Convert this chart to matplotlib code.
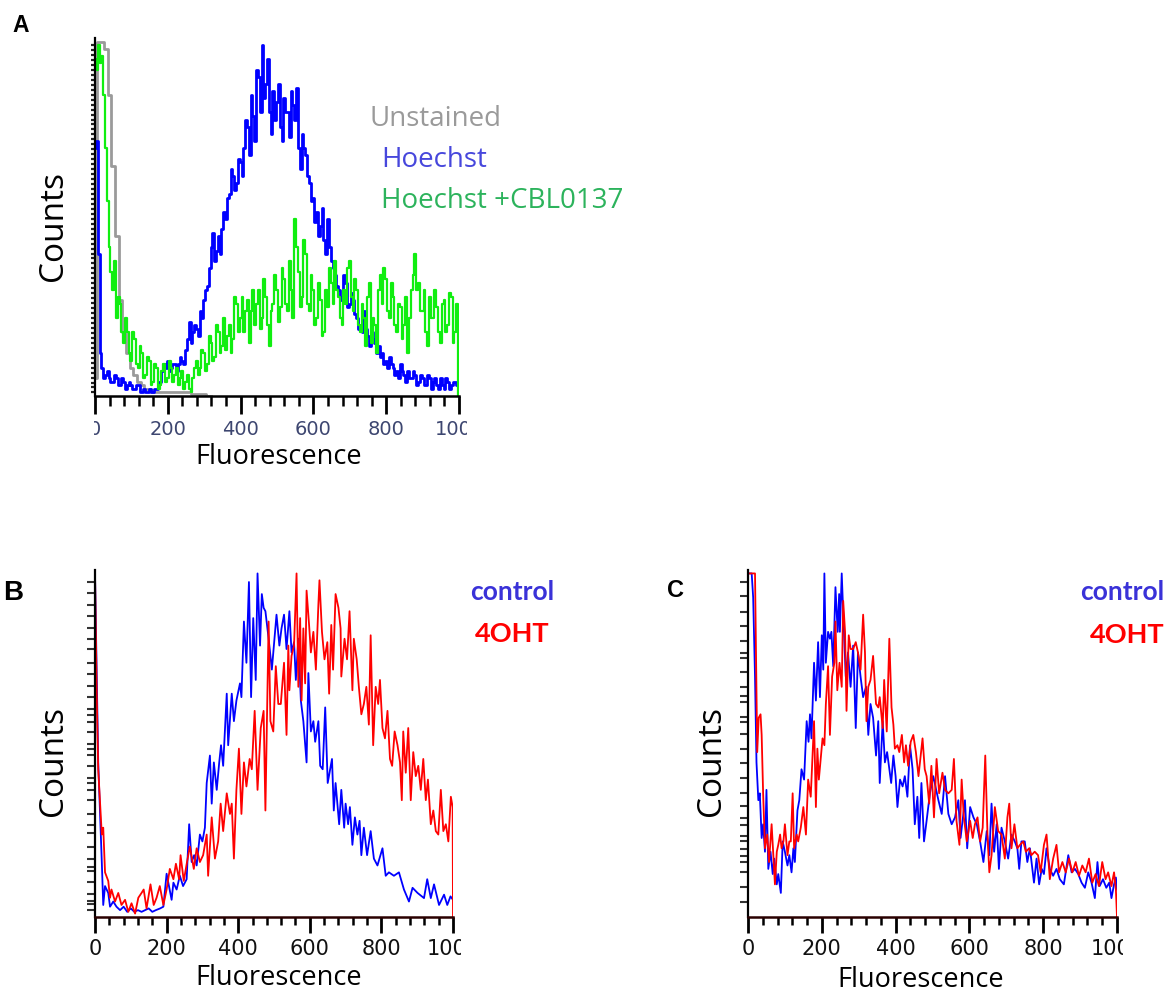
import numpy as np
import matplotlib
matplotlib.use("Agg")
import matplotlib.pyplot as plt
from matplotlib.transforms import Bbox, TransformedBbox

# ---- panel A: histograms, bins every 5 units ----
a_bins = np.arange(0, 1001, 5)

a_hoechst = [
    70, 72, 40, 12, 8, 5, 6, 7, 5, 4,
    4, 6, 5, 3, 3, 5, 4, 2, 3, 4,
    3, 2, 2, 3, 3, 1, 1, 2, 1, 1,
    2, 1, 1, 2, 2, 4, 4, 7, 9, 8,
    10, 7, 8, 9, 9, 7, 9, 11, 10, 9,
    13, 16, 21, 15, 18, 20, 19, 17, 24, 22,
    27, 30, 31, 36, 42, 46, 38, 41, 45, 40,
    47, 52, 50, 56, 57, 64, 62, 58, 60, 67,
    66, 62, 70, 78, 76, 68, 85, 79, 72, 92,
    90, 80, 99, 84, 88, 95, 80, 74, 86, 78,
    83, 88, 76, 72, 84, 80, 80, 73, 86, 82,
    78, 87, 70, 64, 74, 70, 68, 62, 60, 55,
    56, 49, 52, 45, 48, 53, 44, 40, 50, 42,
    38, 36, 34, 31, 30, 27, 28, 34, 32, 25,
    26, 29, 27, 23, 22, 19, 20, 18, 24, 19,
    17, 14, 18, 16, 15, 12, 14, 11, 12, 9,
    10, 8, 11, 9, 8, 6, 7, 5, 9, 7,
    6, 4, 7, 5, 5, 7, 6, 3, 4, 6,
    5, 3, 3, 6, 5, 2, 4, 5, 3, 2,
    5, 3, 2, 5, 4, 2, 3, 4, 4, 3,
    4]

a_cbl = [
    95, 92, 99, 94, 96, 85, 70, 55, 42, 35,
    30, 38, 22, 28, 26, 18, 15, 22, 18, 12,
    10, 18, 16, 9, 8, 14, 12, 5, 6, 11,
    10, 3, 4, 9, 8, 2, 3, 7, 9, 4,
    5, 10, 8, 4, 6, 8, 3, 5, 7, 2,
    4, 6, 2, 1, 5, 8, 10, 6, 8, 13,
    12, 7, 9, 17, 15, 10, 11, 20, 18, 12,
    14, 22, 13, 17, 20, 12, 16, 28, 26, 18,
    22, 28, 18, 24, 27, 15, 24, 30, 20, 26,
    30, 19, 22, 33, 28, 20, 14, 24, 26, 34,
    30, 21, 25, 36, 33, 26, 24, 38, 30, 22,
    50, 42, 35, 25, 28, 44, 40, 26, 24, 34,
    30, 20, 22, 32, 27, 17, 18, 30, 25, 36,
    32, 26, 38, 30, 28, 22, 20, 30, 26, 36,
    38, 28, 24, 33, 30, 20, 18, 26, 22, 14,
    28, 32, 15, 22, 20, 12, 30, 34, 26, 36,
    33, 24, 22, 32, 28, 20, 18, 26, 25, 16,
    20, 28, 12, 22, 30, 34, 40, 30, 32, 24,
    24, 30, 18, 14, 28, 22, 22, 30, 25, 18,
    15, 26, 27, 18, 20, 29, 28, 15, 18, 26,
    0]

# unstained, read every 10 units up to where it meets the axis
a_unst_bins = np.arange(0, 330, 10)
a_unstained = [
    5, 100, 100, 98, 85, 65, 45, 27, 18, 12,
    8, 6, 4, 3, 2, 2, 1, 1, 1, 1,
    1, 1, 1, 1, 1, 1, 1, 0.5, 0.5, 0.5,
    0.5, 0, 0]

# ---- panel B ----
b_ctrl_x = [
    0, 9, 19, 23, 28, 37, 42, 51, 60, 70,
    80, 90, 100, 110, 120, 130, 140, 150, 160, 170,
    182, 191, 200, 214, 219, 228, 237, 246, 256, 263,
    270, 277, 284, 293, 300, 307, 312, 321, 326, 332,
    340, 347, 352, 358, 368, 372, 382, 388, 395, 405,
    409, 416, 423, 430, 436, 442, 449, 454, 461, 466,
    471, 476, 485, 494, 507, 515, 521, 528, 535, 543,
    549, 556, 561, 568, 575, 582, 591, 596, 603, 610,
    615, 624, 629, 636, 643, 650, 662, 667, 672, 682,
    688, 696, 700, 707, 712, 719, 726, 733, 739, 744,
    751, 760, 770, 779, 789, 803, 812, 821, 835, 849,
    863, 877, 887, 901, 919, 928, 938, 947, 961, 975,
    984, 993, 1000]
b_ctrl_y = [
    100, 45, 16, 3.5, 9, 7, 3, 4.5, 3, 2,
    3, 1.5, 2.5, 1.5, 2, 1.5, 2, 2.5, 1.5, 2,
    2.5, 3, 12.6, 5, 10, 8, 12, 9, 11, 27,
    16, 18, 15, 24, 22, 26, 39, 47, 33, 45,
    37, 45, 50, 44, 65, 50, 65, 57, 63, 68,
    64, 86, 74, 97.5, 64, 87, 69, 100, 79, 94,
    90, 89, 81, 72, 88, 79, 84, 88, 78, 89,
    77, 80, 69, 81, 63, 57, 45, 71, 54, 57,
    51, 57, 44, 43, 61, 39, 46, 31, 39, 27,
    37, 26, 33, 27, 32, 21, 29, 24, 28, 18,
    26, 18, 25, 17, 15, 20, 12, 13, 12, 13,
    8, 4.5, 8.5, 7, 5.5, 11, 5.5, 9.5, 3.5, 6.5,
    3.5, 6, 5]

b_ohT_x = [
    0, 5, 9, 19, 23, 28, 37, 42, 46, 56,
    65, 74, 84, 93, 102, 112, 121, 130, 136, 144,
    155, 164, 172, 181, 191, 200, 209, 219, 226, 235,
    239, 248, 257, 265, 276, 284, 293, 302, 312, 316,
    326, 335, 344, 351, 358, 368, 377, 382, 388, 395,
    402, 409, 416, 423, 432, 438, 446, 454, 463, 471,
    476, 485, 490, 498, 505, 512, 519, 528, 535, 540,
    543, 549, 556, 563, 568, 573, 577, 582, 587, 591,
    598, 603, 610, 617, 624, 627, 634, 641, 649, 654,
    660, 665, 672, 680, 686, 688, 697, 704, 711, 719,
    723, 731, 737, 744, 751, 758, 765, 770, 777, 784,
    791, 796, 803, 810, 817, 824, 830, 837, 845, 852,
    857, 861, 868, 875, 882, 889, 896, 903, 910, 917,
    924, 930, 938, 945, 952, 959, 966, 973, 980, 987,
    994, 999, 1000]
b_ohT_y = [
    100, 64, 43, 24, 26, 13, 10.5, 5.6, 8, 4.5,
    7, 3.5, 5, 1.5, 4, 1, 5.6, 7, 8, 2.5,
    9.5, 3.5, 5.6, 9, 3.5, 8, 14, 11, 15.5, 11,
    18, 10.5, 16, 20.5, 14, 20, 16, 18, 24, 12,
    29, 17, 22, 33, 25, 36, 30, 33, 17, 37,
    49, 30, 45, 38, 46, 43, 60, 37, 55, 60,
    31, 86, 57, 54, 73, 62, 62, 74, 53, 79,
    66, 76, 79, 100, 67, 87, 63, 84, 68, 95,
    85, 77, 83, 72, 91, 98, 83, 75, 80, 65,
    85, 72, 94, 90, 84, 70, 81, 75, 89, 66,
    81, 75, 67, 59, 62, 67, 56, 82, 50, 67,
    62, 69, 55, 52, 60, 46, 44, 54, 50, 45,
    34, 54, 42, 55, 34, 48, 41, 44, 37, 46,
    34, 40, 27, 31, 25, 24, 37, 25, 27, 22,
    35, 32, 0]

# ---- panel C ----
c_ctrl_x = [
    0, 10, 14, 19, 23, 28, 32, 37, 41, 46,
    50, 55, 61, 67, 71, 78, 82, 89, 94, 100,
    107, 112, 118, 123, 127, 134, 139, 145, 152, 159,
    164, 168, 172, 179, 184, 190, 195, 200, 204, 207,
    211, 217, 222, 226, 231, 237, 243, 247, 249, 254,
    260, 265, 271, 278, 285, 292, 298, 305, 312, 320,
    326, 332, 339, 347, 353, 357, 365, 371, 377, 383,
    388, 394, 400, 405, 412, 419, 425, 432, 439, 446,
    452, 459, 464, 470, 477, 484, 493, 502, 516, 525,
    534, 543, 552, 561, 570, 576, 588, 594, 602, 611,
    620, 629, 638, 647, 654, 660, 667, 674, 680, 687,
    696, 705, 714, 723, 730, 735, 741, 750, 757, 764,
    775, 782, 789, 796, 802, 809, 818, 827, 836, 845,
    856, 868, 877, 886, 895, 904, 913, 922, 931, 940,
    947, 953, 962, 971, 979, 985, 992, 997, 1000]
c_ctrl_y = [
    100, 100, 93, 70, 45, 34, 36, 23, 27, 19,
    37, 14, 19, 12.5, 17, 9.5, 12.5, 7, 22, 19,
    15, 18, 13, 20, 16, 31, 34, 43, 40, 57,
    51, 59, 52, 74, 63, 80, 64, 82, 72, 100,
    74, 83, 81, 83, 73, 96, 83, 94, 83, 100,
    83, 70, 77, 67, 79, 55, 77, 70, 64, 67,
    53, 62, 58, 47, 57, 39, 57, 45, 48, 43,
    39, 47, 41, 32, 40, 38, 41, 35, 50, 43,
    27, 35, 23, 39, 22, 28, 36, 41, 34, 30,
    41, 30, 27, 29, 34, 23, 34, 20, 32, 29,
    27, 22, 16, 25, 18, 33, 19, 27, 14, 26,
    22, 17, 24, 22, 20, 14, 22, 22, 16, 20,
    10, 17, 9.5, 14, 12.5, 20, 14, 12, 14, 11,
    9.5, 18, 13, 14, 12.5, 10, 8.5, 13, 10, 5.5,
    16, 9, 11, 8.5, 10, 5.5, 9.5, 11.5, 8]

c_ohT_x = [
    0, 19, 22, 25, 29, 34, 37, 41, 46, 52,
    57, 64, 68, 73, 78, 82, 87, 91, 96, 100,
    107, 112, 116, 121, 125, 132, 136, 143, 150, 157,
    163, 170, 175, 179, 184, 188, 192, 197, 202, 207,
    211, 217, 222, 228, 234, 237, 242, 248, 254, 258,
    263, 267, 273, 278, 285, 292, 298, 305, 312, 317,
    321, 326, 332, 339, 347, 353, 357, 365, 369, 376,
    383, 389, 394, 398, 405, 410, 417, 423, 428, 434,
    441, 448, 455, 462, 468, 473, 479, 484, 491, 497,
    504, 511, 518, 527, 534, 543, 552, 558, 565, 573,
    579, 585, 593, 602, 609, 615, 622, 629, 636, 643,
    649, 654, 660, 669, 678, 687, 696, 703, 708, 714,
    722, 730, 737, 746, 753, 762, 768, 777, 786, 793,
    802, 809, 818, 827, 836, 843, 852, 861, 870, 879,
    888, 897, 906, 915, 924, 933, 942, 951, 960, 969,
    976, 985, 992, 997, 1000]
c_ohT_y = [
    100, 100, 74, 48, 58, 59, 53, 36, 20, 24,
    16, 27, 19, 9.5, 19, 21, 24, 20, 22, 27,
    18, 22, 22, 36, 20, 24, 22, 26, 32, 24,
    40, 35, 47, 57, 32, 49, 40, 46, 52, 50,
    62, 73, 53, 70, 74, 86, 66, 74, 67, 92,
    83, 60, 82, 78, 78, 80, 77, 72, 88, 77,
    57, 67, 69, 76, 62, 61, 64, 55, 69, 54,
    81, 61, 56, 49, 50, 48, 53, 45, 50, 44,
    51, 53, 48, 41, 47, 52, 43, 41, 33, 44,
    29, 46, 36, 42, 37, 36, 37, 46, 28, 21,
    40, 29, 22, 28, 23, 27, 29, 22, 26, 47,
    24, 13, 18, 32, 25, 24, 17, 29, 33, 20,
    27, 20, 21, 22, 19, 20, 18, 19, 18, 13,
    21, 24, 11, 17, 21, 13, 16, 13, 17, 13,
    16, 12, 15, 13, 17, 10, 12.5, 9, 16, 11,
    13, 9, 13, 8, 0]

x_ticks = [0, 200, 400, 600, 800, 1000]
x_ticklabels = ["0", "200", "400", "600", "800", "1000"]

# irregular left-axis minor ticks seen on B and C
b_yticks = [97.6, 94.2, 90.9, 87.7, 84.1, 80.8, 77.9, 74.0, 70.7, 67.3, 63.9,
            60.6, 58.7, 56.9, 53.8, 50.5, 48.8, 47.1, 43.9, 40.4, 38.9, 37.0,
            34.1, 30.1, 26.9, 24.5, 20.4, 16.8, 14.6, 13.5, 10.1, 6.7, 4.8,
            3.8, 1.9]
c_yticks = [97.6, 93.3, 88.9, 84.6, 80.3, 76.9, 75.5, 71.2, 66.8, 64.4, 62.5,
            58.2, 56.7, 53.4, 49.0, 44.7, 40.4, 36.1, 32.2, 28.8, 26.9, 23.6,
            22.1, 19.7, 17.8, 15.9, 13.0, 8.7, 4.3]

W, H = 1169, 993
fig = plt.figure(figsize=(W / 100, H / 100), dpi=100)
fig.patch.set_facecolor("white")

LABEL_FONT = "Open Sans"


def px_axes(x0, x1, ytop, ybot):
    return fig.add_axes([x0 / W, 1 - ybot / H, (x1 - x0) / W, (ybot - ytop) / H])


def style_axes(ax, tick_color, major_len, minor_len, label_size):
    ax.set_xlim(0, 1000)
    ax.set_ylim(0, 101)
    for s in ["top", "right"]:
        ax.spines[s].set_visible(False)
    ax.spines["left"].set_linewidth(1.6)
    ax.spines["bottom"].set_linewidth(1.8)
    ax.set_xticks(x_ticks)
    ax.set_xticklabels(x_ticklabels)
    ax.set_xticks(np.arange(0, 1001, 40), minor=True)
    ax.tick_params(axis="x", which="major", length=major_len, width=2,
                   direction="out", labelsize=label_size, labelcolor=tick_color,
                   pad=4)
    ax.tick_params(axis="x", which="minor", length=minor_len, width=1.8,
                   direction="out")
    ax.set_yticks([])


def clip_ticklabels(ax, x0, x1):
    box = TransformedBbox(Bbox.from_extents(x0 / W, 0, x1 / W, 1), fig.transFigure)
    for lab in ax.get_xticklabels():
        lab.set_clip_on(True)
        lab.set_clip_box(box)


# ---------------- A ----------------
axA = px_axes(95, 459, 38, 396)
axA.plot(a_unst_bins, a_unstained, drawstyle="steps-mid", color="#9a9a9a", lw=2.0)
axA.plot(a_bins, a_hoechst, drawstyle="steps-mid", color="#0000ff", lw=2.0)
axA.plot(a_bins, a_cbl, drawstyle="steps-mid", color="#10ee10", lw=1.6)
style_axes(axA, "#3d4670", 13, 7, 14)
axA.set_yticks(np.arange(1, 100, 1.4), minor=True)
axA.tick_params(axis="y", which="minor", length=3, width=1.6, color="#222222")
clip_ticklabels(axA, 94, 467)

axA.set_xlabel("Fluorescence", family=LABEL_FONT, fontsize=19.5)
axA.xaxis.set_label_coords(0.504, -0.13)
axA.set_ylabel("Counts", family=LABEL_FONT, fontsize=24)
axA.yaxis.set_label_coords(-0.07, 0.476)

axA.text(0.755, 0.7535, "Unstained", transform=axA.transAxes, family=LABEL_FONT,
         fontsize=20, color="#9a9a9a", va="baseline")
axA.text(0.786, 0.639, "Hoechst", transform=axA.transAxes, family=LABEL_FONT,
         fontsize=20, color="#4747dc", va="baseline")
axA.text(0.786, 0.524, "Hoechst +CBL0137", transform=axA.transAxes,
         family=LABEL_FONT, fontsize=20, color="#2cb35c", va="baseline")

# ---------------- B ----------------
axB = px_axes(95, 453, 570, 917)
axB.plot(b_ctrl_x, b_ctrl_y, color="#0000ff", lw=1.3)
axB.plot(b_ohT_x, b_ohT_y, color="#ff0000", lw=1.3)
style_axes(axB, "#111111", 11.5, 6, 15)
axB.spines["bottom"].set_color("#2a0000")
axB.set_yticks(b_yticks, minor=True)
axB.tick_params(axis="y", which="minor", length=5.5, width=1.5, color="#333333")
clip_ticklabels(axB, 60, 461)
axB.set_xlabel("Fluorescence", family=LABEL_FONT, fontsize=19.5)
axB.xaxis.set_label_coords(0.514, -0.135)
axB.set_ylabel("Counts", family=LABEL_FONT, fontsize=24)
axB.yaxis.set_label_coords(-0.07, 0.45)
axB.text((470 - 95) / 358, (917 - 600) / 347, "control", transform=axB.transAxes,
         family="Lato", fontweight="bold", fontsize=19, color="#3a32d8",
         va="baseline")
axB.text((475 - 95) / 358, (917 - 642) / 347, "4OHT", transform=axB.transAxes,
         family="Lato", fontweight="bold", fontsize=19.5, color="#ff0000",
         va="baseline")

# ---------------- C ----------------
axC = px_axes(748, 1117, 570, 917)
axC.plot(c_ctrl_x, c_ctrl_y, color="#0000ff", lw=1.3)
axC.plot(c_ohT_x, c_ohT_y, color="#ff0000", lw=1.3)
style_axes(axC, "#111111", 11.5, 6, 15)
axC.spines["bottom"].set_color("#2a0000")
axC.set_yticks(c_yticks, minor=True)
axC.tick_params(axis="y", which="minor", length=5.5, width=1.5, color="#333333")
clip_ticklabels(axC, 700, 1123)
axC.set_xlabel("Fluorescence", family=LABEL_FONT, fontsize=19.5)
axC.xaxis.set_label_coords(0.469, -0.142)
axC.set_ylabel("Counts", family=LABEL_FONT, fontsize=24)
axC.yaxis.set_label_coords(-0.055, 0.45)
axC.text((1080 - 748) / 369, (917 - 600) / 347, "control", transform=axC.transAxes,
         family="Lato", fontweight="bold", fontsize=19, color="#3a32d8",
         va="baseline")
axC.text((1090 - 748) / 369, (917 - 643) / 347, "4OHT", transform=axC.transAxes,
         family="Lato", fontweight="bold", fontsize=19.5, color="#ff0000",
         va="baseline")

# panel letters
fig.text(12 / W, 1 - 32 / H, "A", family="Liberation Sans", fontweight="bold",
         fontsize=16.5, va="baseline")
fig.text(3 / W, 1 - 600 / H, "B", family="Liberation Sans", fontweight="bold",
         fontsize=20, va="baseline")
fig.text(667 / W, 1 - 597 / H, "C", family="Liberation Sans", fontweight="bold",
         fontsize=17, va="baseline")

fig.savefig("out.png", dpi=100, facecolor="white")
